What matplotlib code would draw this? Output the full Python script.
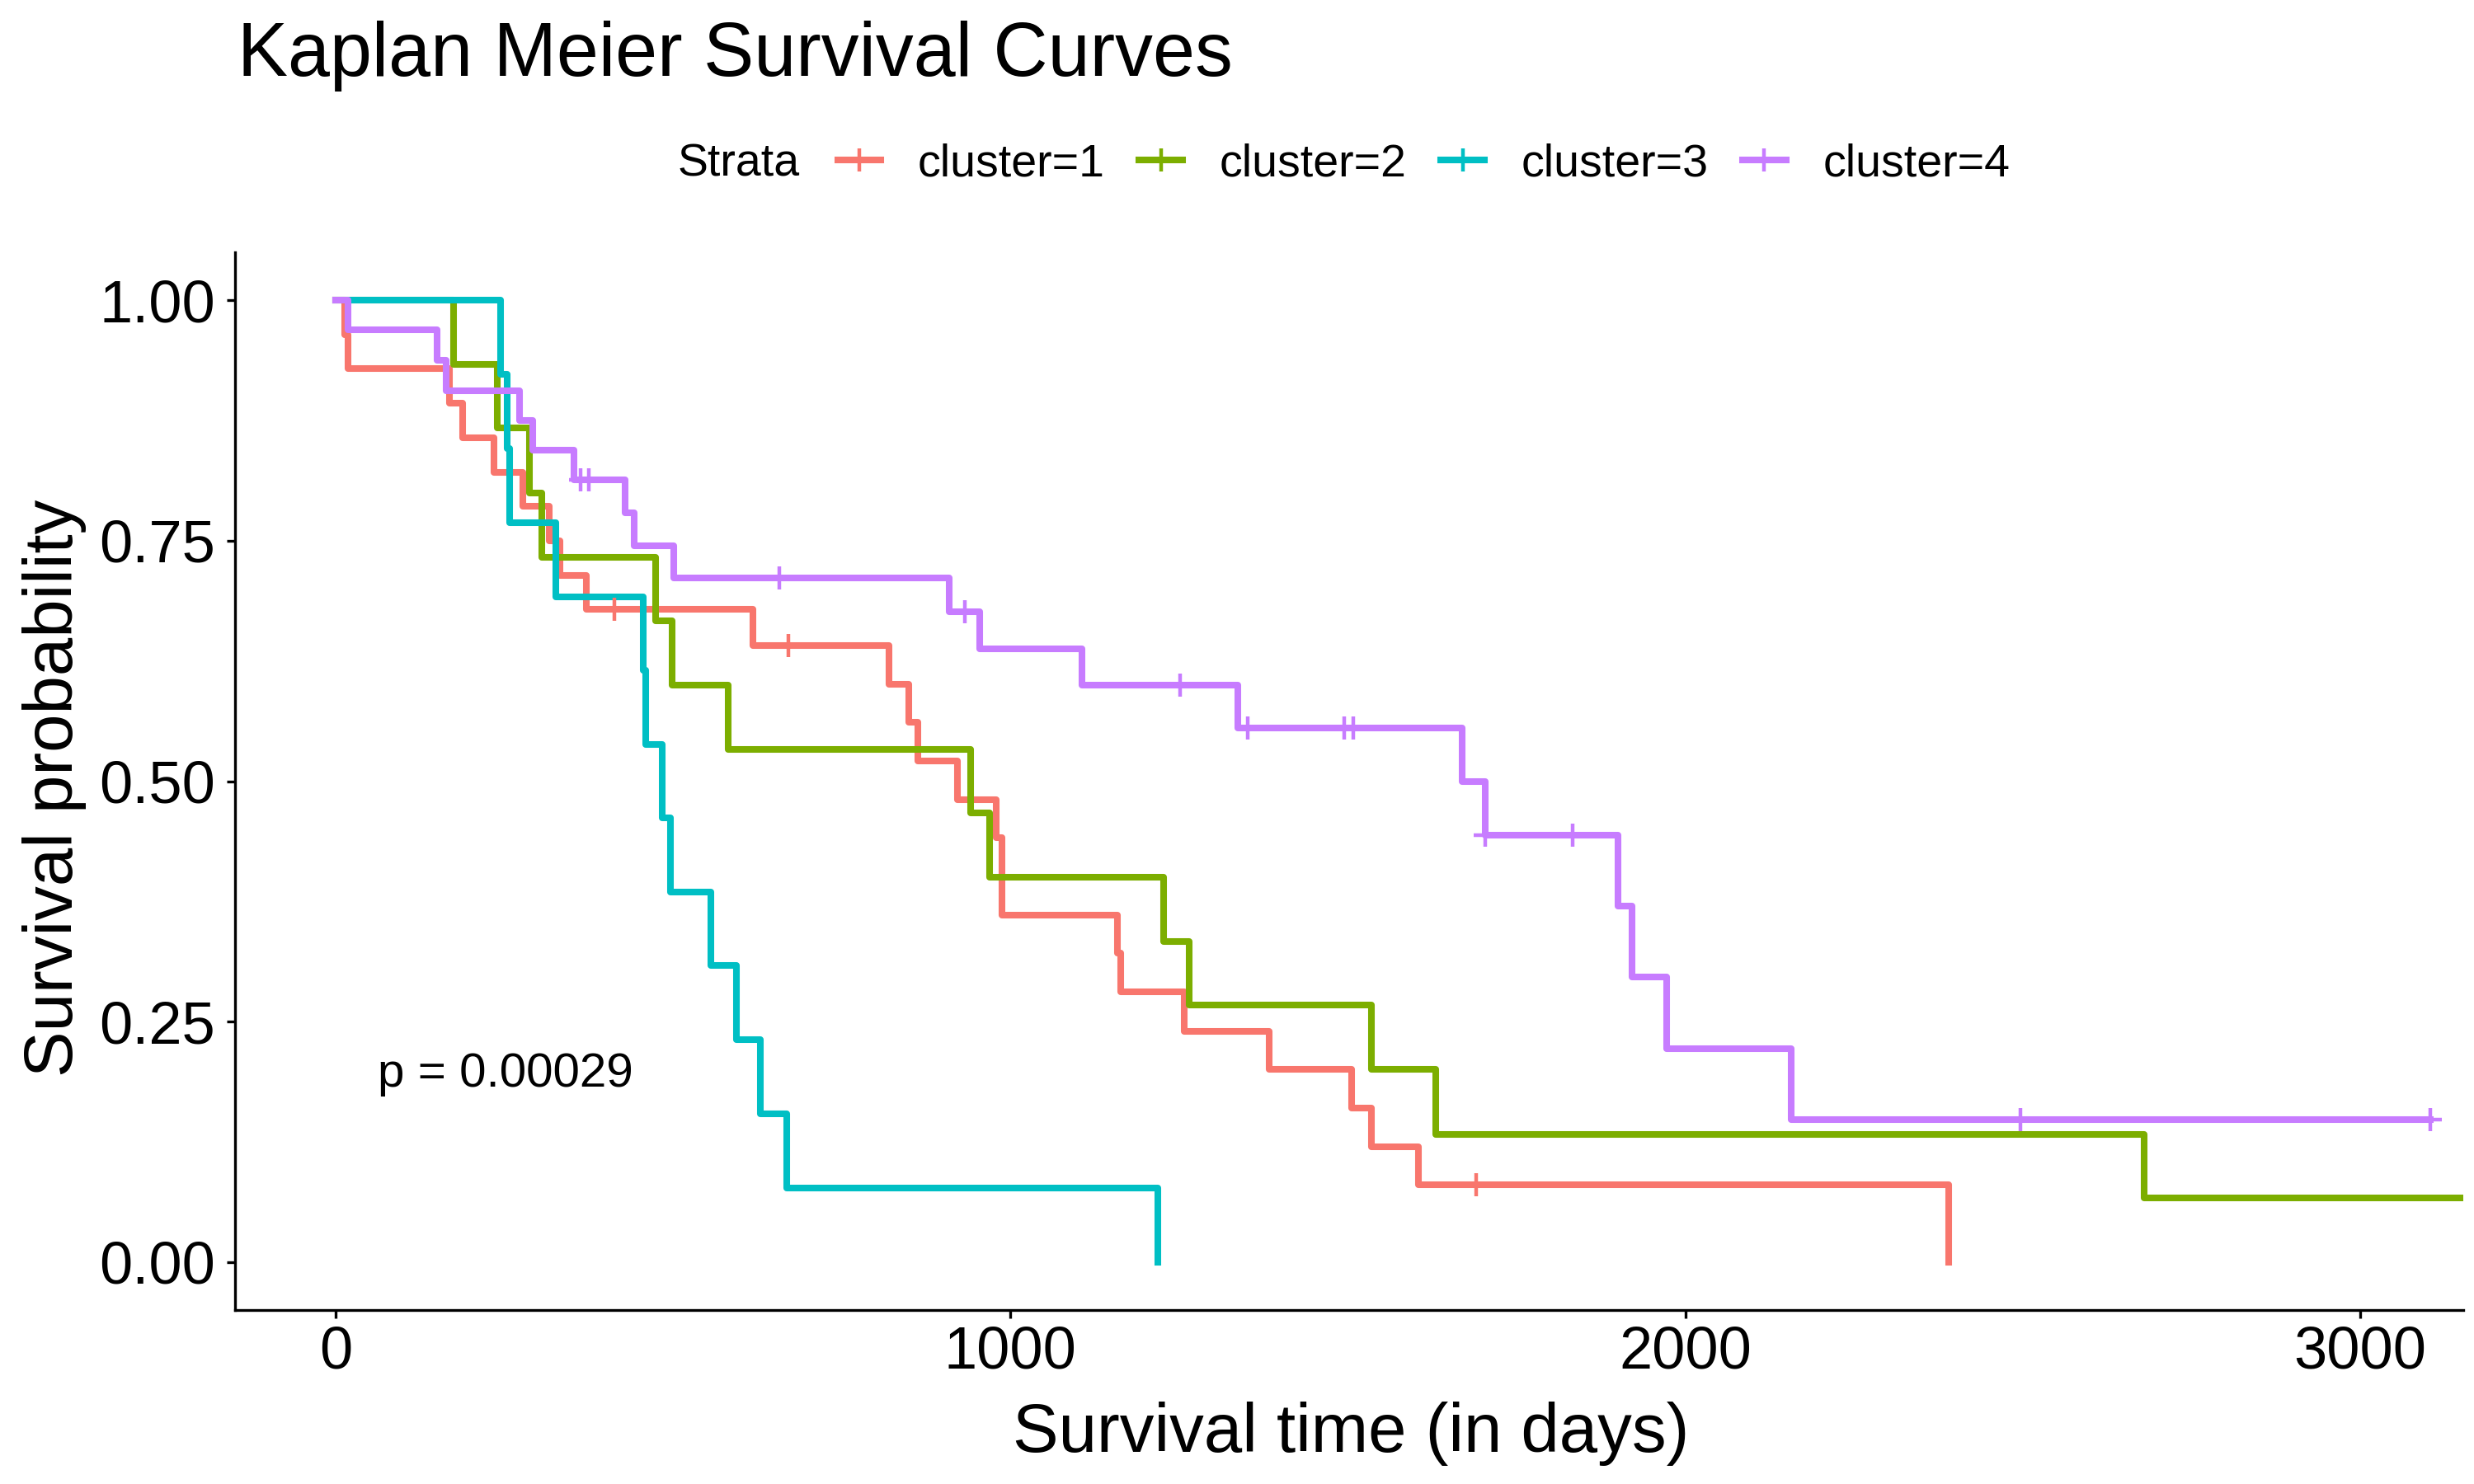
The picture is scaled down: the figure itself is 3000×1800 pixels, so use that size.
import numpy as np
import matplotlib
matplotlib.use("Agg")
import matplotlib.pyplot as plt
from matplotlib.lines import Line2D

plt.rcParams["font.family"] = ["Liberation Sans", "DejaVu Sans"]

# Kaplan-Meier step values (time in days, survival probability)
strata = ["cluster=1", "cluster=2", "cluster=3", "cluster=4"]
colors = ["#F8766D", "#7CAE00", "#00BFC4", "#C77CFF"]

t1 = [0, 14, 19, 169, 188, 235, 278, 316, 333, 372, 619, 820, 849, 863, 922, 979, 988,
      1159, 1163, 1257, 1383, 1506, 1535, 1604, 2390]
s1 = [1.0, 0.964, 0.929, 0.893, 0.857, 0.821, 0.786, 0.750, 0.714, 0.679, 0.641, 0.601,
      0.561, 0.521, 0.481, 0.441, 0.361, 0.321, 0.281, 0.240, 0.200, 0.160, 0.120, 0.080, 0.0]
c1 = [413, 671, 1690]

t2 = [0, 175, 240, 287, 305, 474, 499, 582, 941, 969, 1227, 1265, 1535, 1630, 2680, 3300]
s2 = [1.0, 0.933, 0.867, 0.800, 0.733, 0.667, 0.600, 0.533, 0.467, 0.400, 0.333, 0.267,
      0.200, 0.133, 0.067, 0.067]
c2 = []

t3 = [0, 245, 254, 258, 326, 456, 460, 484, 496, 556, 594, 629, 669, 1219]
s3 = [1.0, 0.923, 0.846, 0.769, 0.692, 0.615, 0.538, 0.462, 0.385, 0.308, 0.231, 0.154,
      0.077, 0.0]
c3 = []

t4 = [0, 19, 150, 164, 272, 292, 353, 429, 443, 501, 909, 955, 1106, 1337, 1669, 1703,
      1900, 1921, 1973, 2157, 3104]
s4 = [1.0, 0.969, 0.938, 0.906, 0.875, 0.844, 0.813, 0.779, 0.745, 0.711, 0.676, 0.638,
      0.600, 0.555, 0.500, 0.444, 0.370, 0.296, 0.222, 0.148, 0.148]
c4 = [363, 375, 657, 933, 1251, 1352, 1495, 1508, 1704, 1833, 2497, 3104]

pval_text = "p = 0.00029"
x_ticks = [0, 1000, 2000, 3000]
y_ticks = [0.0, 0.25, 0.50, 0.75, 1.00]
y_ticklabels = ["0.00", "0.25", "0.50", "0.75", "1.00"]

series = [(t1, s1, c1), (t2, s2, c2), (t3, s3, c3), (t4, s4, c4)]

fig = plt.figure(figsize=(15, 9), dpi=200)
ax = fig.add_axes([0.095, 0.1172, 0.9007, 0.7128])

lw = 2.9
for (t, s, c), col in zip(series, colors):
    t = np.array(t, dtype=float)
    s = np.array(s, dtype=float)
    ax.step(t, s, where="post", color=col, lw=lw, zorder=3)
    if len(c):
        c = np.array(c, dtype=float)
        idx = np.searchsorted(t, c, side="right") - 1
        ax.plot(c, s[idx], ls="none", marker="+", ms=10, mew=1.6, color=col, zorder=4)

ax.set_xlim(-149, 3153)
ax.set_ylim(-0.05, 1.05)
ax.set_xticks(x_ticks)
ax.set_yticks(y_ticks)
ax.set_yticklabels(y_ticklabels)
ax.tick_params(axis="both", labelsize=26, length=3.6, width=1.2, color="black",
               labelcolor="black", direction="out")
ax.tick_params(axis="x", pad=3)
ax.tick_params(axis="y", pad=5)
for side in ["top", "right"]:
    ax.spines[side].set_visible(False)
for side in ["left", "bottom"]:
    ax.spines[side].set_linewidth(1.2)
    ax.spines[side].set_color("black")

ax.text(63, 0.195, pval_text, fontsize=21, ha="left", va="center")

fig.text(0.096, 0.949, "Kaplan Meier Survival Curves", fontsize=33, ha="left", va="baseline")
fig.text(0.546, 0.034, "Survival time (in days)", fontsize=30, ha="center", va="center")
fig.text(0.022, 0.469, "Survival probability", fontsize=30, ha="center", va="center",
         rotation=90)

fig.text(0.2737, 0.889, "Strata", fontsize=20, ha="left", va="center")
handles = [Line2D([], [], color=col, lw=lw, marker="+", ms=10, mew=1.6) for col in colors]
fig.legend(handles, strata, loc="center left", bbox_to_anchor=(0.3385, 0.889), ncol=4,
           frameon=False, fontsize=20, handlelength=0.95, handletextpad=0.8,
           columnspacing=0.75, borderaxespad=0, borderpad=0)

fig.savefig("out.png", dpi=200)
